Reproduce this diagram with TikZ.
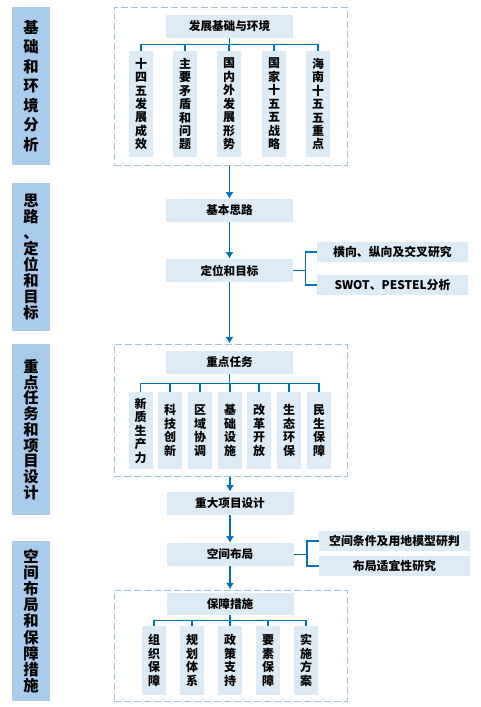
\documentclass[tikz,border=0pt]{standalone}
\usepackage{fontspec}
\setmainfont{Noto Sans CJK SC}
\usepackage{tikz}
\usetikzlibrary{arrows.meta,fit}

\definecolor{barblue}{HTML}{A9CBEC}
\definecolor{boxblue}{HTML}{DDEBF7}
\definecolor{lineblue}{HTML}{0070C0}
\definecolor{dashblue}{HTML}{9DC3E6}

\begin{document}
\begin{tikzpicture}[
    x=0.75pt, y=-0.75pt,
    bar/.style    = {fill=barblue, minimum width=28.5pt, inner sep=0pt, align=center},
    box/.style    = {fill=boxblue, minimum width=95.25pt, minimum height=17.25pt, inner sep=0pt,
                     font=\fontsize{8.7}{10}\selectfont\bfseries},
    item/.style   = {fill=boxblue, minimum width=18pt, minimum height=#1, inner sep=0pt, align=center,
                     font=\fontsize{9}{10.1}\selectfont\bfseries},
    side/.style   = {fill=boxblue, minimum width=113.25pt, minimum height=15pt, inner sep=0pt,
                     font=\fontsize{8.9}{10}\selectfont\bfseries},
    frame/.style  = {draw=dashblue, line width=0.75pt, dash pattern=on 5pt off 2.5pt, inner sep=0pt},
    link/.style   = {draw=lineblue, line width=1.1pt},
    flow/.style   = {link, -{Latex[length=5pt, width=6pt]}},
]
\useasboundingbox (0,0) rectangle (481,707);

% --- left stage bars ---
\node[bar, minimum height=118.5pt, font=\fontsize{11.5}{14.6}\selectfont\bfseries] (bar1) at (31, 86)
    {基\\础\\和\\环\\境\\分\\析};
\node[bar, minimum height=111pt, font=\fontsize{11.5}{12}\selectfont\bfseries] (bar2) at (31, 257)
    {思\\路\\、\\定\\位\\和\\目\\标};
\node[bar, minimum height=128.25pt, font=\fontsize{11.5}{11.8}\selectfont\bfseries] (bar3) at (31, 429.5)
    {重\\点\\任\\务\\和\\项\\目\\设\\计};
\node[bar, minimum height=120pt, font=\fontsize{11.5}{12.1}\selectfont\bfseries] (bar4) at (31, 621)
    {空\\间\\布\\局\\和\\保\\障\\措\\施};

% --- stage 1: basis and environment ---
\node[frame, fit={(114,7) (347,165)}] (frameA) {};
\node[box] (topA) at (229.5, 26.5) {发展基础与环境};
\node[item=79.5pt] (a1) at (141, 104) {十\\四\\五\\发\\展\\成\\效};
\node[item=79.5pt] (a2) at (185, 104) {主\\要\\矛\\盾\\和\\问\\题};
\node[item=79.5pt] (a3) at (229, 104) {国\\内\\外\\发\\展\\形\\势};
\node[item=79.5pt] (a4) at (274, 104) {国\\家\\十\\五\\五\\战\\略};
\node[item=79.5pt] (a5) at (318, 104) {海\\南\\十\\五\\五\\重\\点};

\draw[link] (topA.south) -- ++(0,6) -| (a1.north);
\draw[link] (topA.south) -- ++(0,6) -| (a2.north);
\draw[link] (topA.south) -- ++(0,6) -| (a3.north);
\draw[link] (topA.south) -- ++(0,6) -| (a4.north);
\draw[link] (topA.south) -- ++(0,6) -| (a5.north);

% --- stage 2: ideas, positioning and goals ---
\node[box] (basic) at (229.5, 210.5) {基本思路};
\node[box] (goal)  at (229.5, 270.5) {定位和目标};
\node[side] (sideA) at (392.5, 252) {横向、纵向及交叉研究};
\node[side] (sideB) at (392.5, 285) {SWOT、PESTEL分析};

\draw[flow] (frameA.south -| basic) -- (basic.north);
\draw[flow] (basic.south) -- (goal.north);
\draw[link] (goal.east) -- ++(12,0) |- (sideA.west);
\draw[link] (goal.east) -- ++(12,0) |- (sideB.west);

% --- stage 3: key tasks and projects ---
\node[frame, fit={(114,344) (347,476)}] (frameB) {};
\node[box] (topB) at (229.5, 362.5) {重点任务};
\node[item=57.75pt] (b1) at (140.5, 430.5) {新\\质\\生\\产\\力};
\node[item=57.75pt] (b2) at (170, 430.5)   {科\\技\\创\\新};
\node[item=57.75pt] (b3) at (200, 430.5)   {区\\域\\协\\调};
\node[item=57.75pt] (b4) at (230, 430.5)   {基\\础\\设\\施};
\node[item=57.75pt] (b5) at (259, 430.5)   {改\\革\\开\\放};
\node[item=57.75pt] (b6) at (289, 430.5)   {生\\态\\环\\保};
\node[item=57.75pt] (b7) at (319, 430.5)   {民\\生\\保\\障};

\draw[flow] (goal.south) -- (goal.south |- frameB.north);
\draw[link] (topB.south) -- ++(0,9) -| (b1.north);
\draw[link] (topB.south) -- ++(0,9) -| (b2.north);
\draw[link] (topB.south) -- ++(0,9) -| (b3.north);
\draw[link] (topB.south) -- ++(0,9) -| (b4.north);
\draw[link] (topB.south) -- ++(0,9) -| (b5.north);
\draw[link] (topB.south) -- ++(0,9) -| (b6.north);
\draw[link] (topB.south) -- ++(0,9) -| (b7.north);

\node[box] (major) at (230, 503.5) {重大项目设计};
\draw[flow] (frameB.south -| major) -- (major.north);

% --- stage 4: layout and safeguards ---
\node[box] (space) at (230, 554.5) {空间布局};
\node[side] (sideC) at (394.5, 541) {空间条件及用地模型研判};
\node[side] (sideD) at (394.5, 566) {布局适宜性研究};

\draw[flow] (major.south) -- (space.north);
\draw[link] (space.east) -- ++(13,0) |- (sideC.west);
\draw[link] (space.east) -- ++(13,0) |- (sideD.west);

\node[frame, fit={(114,590) (347,701)}] (frameC) {};
\node[box, minimum height=16.5pt] (topC) at (230, 604) {保障措施};
\node[item=51.75pt] (c1) at (154, 660.5) {组\\织\\保\\障};
\node[item=51.75pt] (c2) at (192, 660.5) {规\\划\\体\\系};
\node[item=51.75pt] (c3) at (230, 660.5) {政\\策\\支\\持};
\node[item=51.75pt] (c4) at (268, 660.5) {要\\素\\保\\障};
\node[item=51.75pt] (c5) at (306, 660.5) {实\\施\\方\\案};

\draw[flow] (space.south) -- (space.south |- frameC.north);
\draw[link] (topC.south) -- ++(0,5) -| (c1.north);
\draw[link] (topC.south) -- ++(0,5) -| (c2.north);
\draw[link] (topC.south) -- ++(0,5) -| (c3.north);
\draw[link] (topC.south) -- ++(0,5) -| (c4.north);
\draw[link] (topC.south) -- ++(0,5) -| (c5.north);

\end{tikzpicture}
\end{document}
